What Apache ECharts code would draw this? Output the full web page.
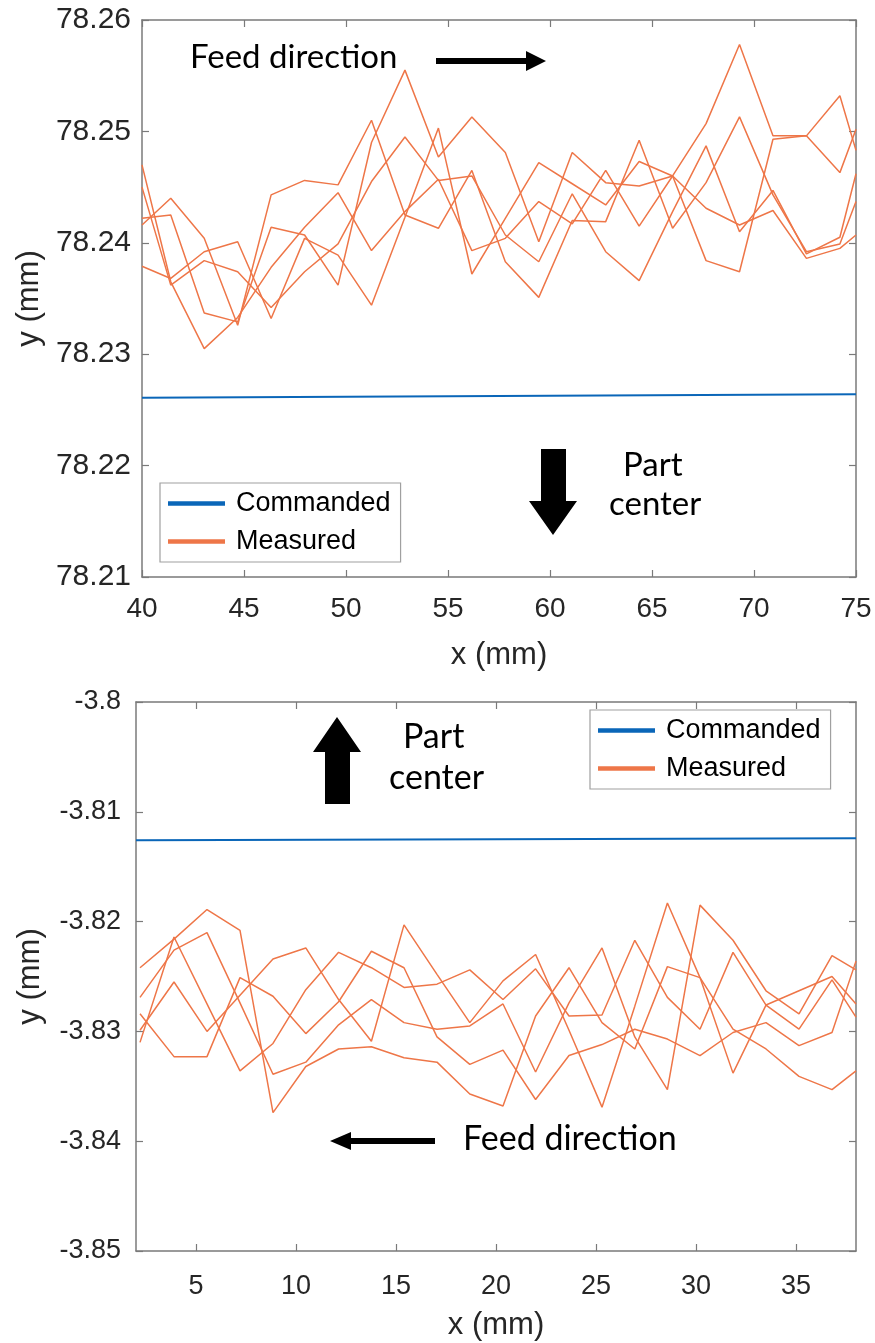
<!DOCTYPE html>
<html>
<head>
<meta charset="utf-8">
<script src="https://cdn.jsdelivr.net/npm/echarts@6/dist/echarts.min.js"></script>
<style>
html,body{margin:0;padding:0;background:#fff;}
#chart{width:875px;height:1343px;}
</style>
</head>
<body>
<div id="chart"></div>
<script>
// ---------- Top panel data ----------
const topX = [40, 41.41, 43.05, 44.69, 46.33, 47.97, 49.61, 51.25, 52.89, 54.53, 56.17, 57.81, 59.45, 61.09, 62.73, 64.37, 66.01, 67.65, 69.29, 70.93, 72.57, 74.21, 75];
const topM1 = [78.2422, 78.2425, 78.2337, 78.2329, 78.2414, 78.2407, 78.2362, 78.2490, 78.2555, 78.2477, 78.2513, 78.2481, 78.2401, 78.2481, 78.2454, 78.2451, 78.2460, 78.2507, 78.2578, 78.2496, 78.2496, 78.2532, 78.2483];
const topM2 = [78.2416, 78.2440, 78.2404, 78.2326, 78.2443, 78.2456, 78.2452, 78.2510, 78.2425, 78.2413, 78.2465, 78.2383, 78.2351, 78.2420, 78.2419, 78.2492, 78.2413, 78.2454, 78.2513, 78.2443, 78.2392, 78.2399, 78.2437];
const topM3 = [78.2470, 78.2365, 78.2305, 78.2333, 78.2378, 78.2414, 78.2445, 78.2393, 78.2428, 78.2457, 78.2393, 78.2404, 78.2437, 78.2417, 78.2465, 78.2415, 78.2460, 78.2431, 78.2416, 78.2429, 78.2386, 78.2395, 78.2407];
const topM4 = [78.2450, 78.2362, 78.2384, 78.2374, 78.2342, 78.2374, 78.2399, 78.2455, 78.2495, 78.2456, 78.2460, 78.2407, 78.2383, 78.2444, 78.2392, 78.2366, 78.2428, 78.2487, 78.2410, 78.2447, 78.2390, 78.2405, 78.2462];
const topM5 = [78.2379, 78.2368, 78.2392, 78.2401, 78.2332, 78.2404, 78.2389, 78.2344, 78.2423, 78.2503, 78.2372, 78.2422, 78.2472, 78.2453, 78.2434, 78.2473, 78.2460, 78.2384, 78.2374, 78.2493, 78.2496, 78.2463, 78.2502];
const topCmdX = [40, 75];
const topCmd = [78.2261, 78.2264];
const topXTicks = [40, 45, 50, 55, 60, 65, 70, 75];
const topYTicks = [78.21, 78.22, 78.23, 78.24, 78.25, 78.26];

// ---------- Bottom panel data ----------
const botX = [2.2, 3.9, 5.55, 7.2, 8.85, 10.49, 12.13, 13.77, 15.4, 17.05, 18.69, 20.35, 21.98, 23.65, 25.3, 26.94, 28.57, 30.2, 31.85, 33.5, 35.15, 36.8, 38];
const botM1 = [-3.8242, -3.8216, -3.8189, -3.8208, -3.8374, -3.8332, -3.8316, -3.8314, -3.8324, -3.8328, -3.8357, -3.8368, -3.8286, -3.8242, -3.8292, -3.8316, -3.8241, -3.8251, -3.8298, -3.8316, -3.8341, -3.8353, -3.8336];
const botM2 = [-3.8310, -3.8214, -3.8275, -3.8336, -3.8311, -3.8262, -3.8228, -3.8242, -3.8260, -3.8257, -3.8244, -3.8271, -3.8243, -3.8286, -3.8285, -3.8217, -3.8269, -3.8298, -3.8228, -3.8276, -3.8263, -3.8250, -3.8275];
const botM3 = [-3.8284, -3.8323, -3.8323, -3.8251, -3.8268, -3.8302, -3.8273, -3.8227, -3.8242, -3.8305, -3.8330, -3.8317, -3.8362, -3.8322, -3.8312, -3.8298, -3.8307, -3.8322, -3.8301, -3.8292, -3.8313, -3.8301, -3.8236];
const botM4 = [-3.8269, -3.8226, -3.8210, -3.8274, -3.8339, -3.8328, -3.8294, -3.8271, -3.8292, -3.8298, -3.8295, -3.8275, -3.8337, -3.8274, -3.8224, -3.8305, -3.8353, -3.8185, -3.8217, -3.8263, -3.8284, -3.8231, -3.8244];
const botM5 = [-3.8299, -3.8255, -3.8300, -3.8267, -3.8234, -3.8224, -3.8271, -3.8309, -3.8203, -3.8248, -3.8292, -3.8254, -3.8230, -3.8299, -3.8369, -3.8277, -3.8183, -3.8251, -3.8338, -3.8276, -3.8298, -3.8253, -3.8287];
const botCmdX = [2, 38];
const botCmd = [-3.8126, -3.8124];
const botXTicks = [5, 10, 15, 20, 25, 30, 35];
const botYTicks = [-3.85, -3.84, -3.83, -3.82, -3.81, -3.8];

// ---------- Styling ----------
const MEAS = '#EE7648';
const CMD = '#0A66B8';
const AX = '#7a7a7a';
const TXT = '#262626';
const FONT = "'Liberation Sans', Arial, sans-serif";
const ANN = "Lato, 'Open Sans', sans-serif";

function pairs(xs, ys) { return xs.map((x, i) => [x, ys[i]]); }

function xAx(grid, min, max, ticks, show, pos, fs, margin, gap) {
  return {
    type: 'value', gridIndex: grid, position: pos, min: min, max: max,
    name: show ? 'x (mm)' : '', nameLocation: 'middle', nameGap: gap,
    nameTextStyle: { fontFamily: FONT, fontSize: 31, color: TXT },
    axisLine: { show: true, onZero: false, lineStyle: { color: AX, width: 1.5 } },
    axisTick: { show: true, inside: true, length: 7, customValues: ticks, lineStyle: { color: AX, width: 1.2 } },
    axisLabel: { show: show, customValues: ticks, margin: margin, fontFamily: FONT, fontSize: fs, color: TXT },
    splitLine: { show: false }
  };
}
function yAx(grid, min, max, ticks, show, pos, fs, fmt, gap, margin) {
  return {
    type: 'value', gridIndex: grid, position: pos, min: min, max: max,
    name: show ? 'y (mm)' : '', nameLocation: 'middle', nameGap: gap,
    nameTextStyle: { fontFamily: FONT, fontSize: 31, color: TXT },
    axisLine: { show: true, onZero: false, lineStyle: { color: AX, width: 1.5 } },
    axisTick: { show: true, inside: true, length: 7, customValues: ticks, lineStyle: { color: AX, width: 1.2 } },
    axisLabel: { show: show, customValues: ticks, margin: margin, fontFamily: FONT, fontSize: fs, color: TXT, formatter: fmt },
    splitLine: { show: false }
  };
}

const measStyle = { color: MEAS, width: 1.5 };
function measSeries(xi, yi, xs, ys) {
  return { name: 'Measured', type: 'line', xAxisIndex: xi, yAxisIndex: yi, data: pairs(xs, ys),
    symbol: 'none', lineStyle: measStyle, itemStyle: { color: MEAS }, clip: true, silent: true, animation: false, z: 3 };
}
function cmdSeries(xi, yi, xs, ys) {
  return { name: 'Commanded', type: 'line', xAxisIndex: xi, yAxisIndex: yi, data: pairs(xs, ys),
    symbol: 'none', lineStyle: { color: CMD, width: 2 }, itemStyle: { color: CMD }, clip: true, silent: true, animation: false, z: 2 };
}

const legendBase = {
  orient: 'vertical', data: ['Commanded', 'Measured'], itemWidth: 57, itemHeight: 14, itemGap: 11,
  backgroundColor: '#fff', borderColor: '#a0a0a0', borderWidth: 1.2, borderRadius: 0, padding: [7, 10, 7, 8],
  textStyle: { fontFamily: FONT, fontSize: 27, color: '#000', padding: [0, 0, 0, 6] },
  selectedMode: false, icon: 'path://M0,0 L1,0 L1,0.08 L0,0.08 Z'
};

const botFmt = v => String(parseFloat(v.toFixed(2)));

const chart = echarts.init(document.getElementById('chart'), null, { renderer: 'canvas' });
chart.setOption({
  animation: false,
  backgroundColor: '#fff',
  grid: [
    { left: 142, top: 20, width: 714, height: 557, containLabel: false },
    { left: 136, top: 702, width: 720, height: 549, containLabel: false }
  ],
  xAxis: [
    xAx(0, 40, 75, topXTicks, true, 'bottom', 28, 18, 63),
    xAx(0, 40, 75, topXTicks, false, 'top', 28, 18, 0),
    xAx(1, 2, 38, botXTicks, true, 'bottom', 27, 22, 59),
    xAx(1, 2, 38, botXTicks, false, 'top', 27, 22, 0)
  ],
  yAxis: [
    yAx(0, 78.21, 78.26, topYTicks, true, 'left', 30, v => v.toFixed(2), 97, 11),
    yAx(0, 78.21, 78.26, topYTicks, false, 'right', 30, v => v.toFixed(2), 0, 11),
    yAx(1, -3.85, -3.8, botYTicks, true, 'left', 27, botFmt, 90, 15),
    yAx(1, -3.85, -3.8, botYTicks, false, 'right', 27, botFmt, 0, 15)
  ],
  legend: [
    Object.assign({}, legendBase, { left: 160, top: 483 }),
    Object.assign({}, legendBase, { left: 590, top: 710 })
  ],
  series: [
    cmdSeries(0, 0, topCmdX, topCmd),
    measSeries(0, 0, topX, topM1),
    measSeries(0, 0, topX, topM2),
    measSeries(0, 0, topX, topM3),
    measSeries(0, 0, topX, topM4),
    measSeries(0, 0, topX, topM5),
    cmdSeries(2, 2, botCmdX, botCmd),
    measSeries(2, 2, botX, botM1),
    measSeries(2, 2, botX, botM2),
    measSeries(2, 2, botX, botM3),
    measSeries(2, 2, botX, botM4),
    measSeries(2, 2, botX, botM5)
  ],
  graphic: [
    // top panel annotations
    { type: 'text', left: 190, top: 41, style: { text: 'Feed direction', font: "33px " + ANN, fill: '#000' }, z: 10 },
    { type: 'polygon', shape: { points: [[436, 58], [526, 58], [526, 51], [546, 61], [526, 71], [526, 64], [436, 64]] }, style: { fill: '#000' }, z: 10 },
    { type: 'polygon', shape: { points: [[541, 449], [566, 449], [566, 501], [577, 501], [553, 535], [529, 501], [541, 501]] }, style: { fill: '#000' }, z: 10 },
    { type: 'text', left: 623, top: 449, style: { text: 'Part', font: "33px " + ANN, fill: '#000' }, z: 10 },
    { type: 'text', left: 609, top: 488, style: { text: 'center', font: "33px " + ANN, fill: '#000' }, z: 10 },
    // bottom panel annotations
    { type: 'polygon', shape: { points: [[337, 717], [361, 752], [350, 752], [350, 804], [325, 804], [325, 752], [313, 752]] }, style: { fill: '#000' }, z: 10 },
    { type: 'text', left: 403, top: 720, style: { text: 'Part', font: "34px " + ANN, fill: '#000' }, z: 10 },
    { type: 'text', left: 389, top: 761, style: { text: 'center', font: "34px " + ANN, fill: '#000' }, z: 10 },
    { type: 'polygon', shape: { points: [[330, 1141], [351, 1132], [351, 1138], [435, 1138], [435, 1144], [351, 1144], [351, 1150]] }, style: { fill: '#000' }, z: 10 },
    { type: 'text', left: 463, top: 1122, style: { text: 'Feed direction', font: "34px " + ANN, fill: '#000' }, z: 10 }
  ]
});
</script>
</body>
</html>
